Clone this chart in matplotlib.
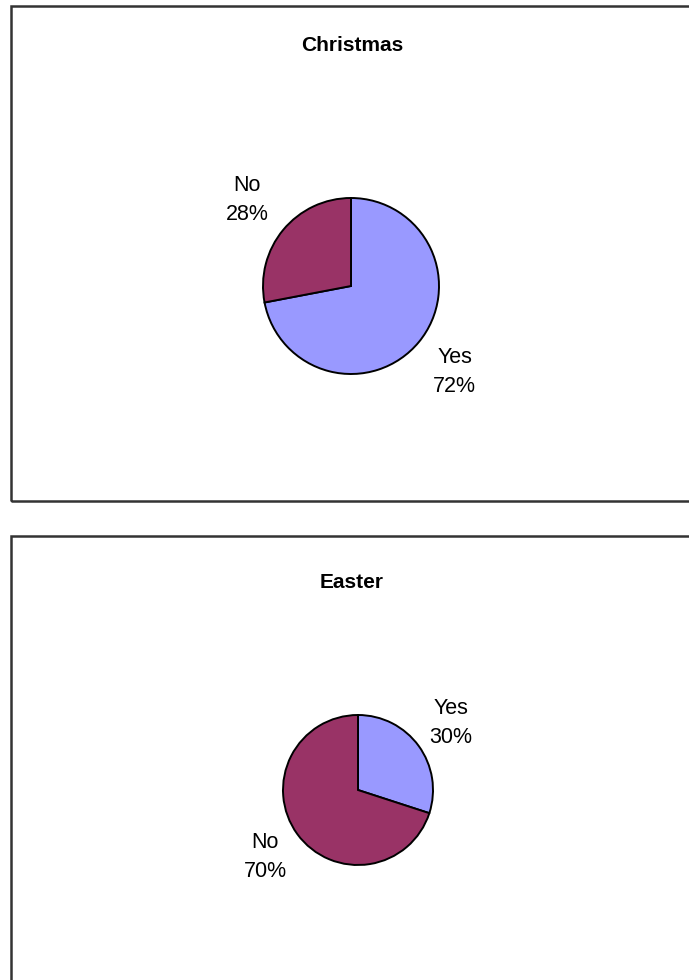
import matplotlib
matplotlib.use("Agg")
import matplotlib.pyplot as plt
from matplotlib.patches import Rectangle

# data
answers = ["Yes", "No"]
christmas = [72, 28]
easter = [30, 70]
titles = ["Christmas", "Easter"]
colors = ["#9999FF", "#993366"]

plt.rcParams["font.family"] = ["Liberation Sans", "DejaVu Sans"]

W, H = 689, 980
fig = plt.figure(figsize=(W / 100, H / 100), dpi=100)
ax = fig.add_axes([0, 0, 1, 1])

# layout in pixels (top-down y): box, pie centre, radius, title y
panels = [
    {"values": christmas, "box": (11, 6, 693, 501), "center": (351, 286), "r": 88, "title_y": 46},
    {"values": easter, "box": (11, 536, 693, 1000), "center": (358, 790), "r": 75, "title_y": 583},
]

for title, p in zip(titles, panels):
    x0, y0, x1, y1 = p["box"]
    ax.add_patch(Rectangle((x0, H - y1), x1 - x0, y1 - y0, fill=False,
                           edgecolor="#333333", linewidth=1.8, clip_on=False))
    ax.text((x0 + x1) / 2, H - p["title_y"], title, ha="center", va="center",
            fontsize=15, fontweight="bold")

    cx, cy = p["center"]
    labels = [f"{a}\n{v}%" for a, v in zip(answers, p["values"])]
    ax.pie(p["values"], colors=colors, labels=labels, startangle=90, counterclock=False,
           center=(cx, H - cy), radius=p["r"], labeldistance=1.53, frame=True,
           wedgeprops=dict(edgecolor="black", linewidth=1.4),
           textprops=dict(fontsize=15.5, ha="center", va="center", linespacing=1.5))

ax.set_xlim(0, W)
ax.set_ylim(0, H)
ax.set_aspect("auto")
ax.axis("off")

fig.savefig("out.png", dpi=100, facecolor="white")
